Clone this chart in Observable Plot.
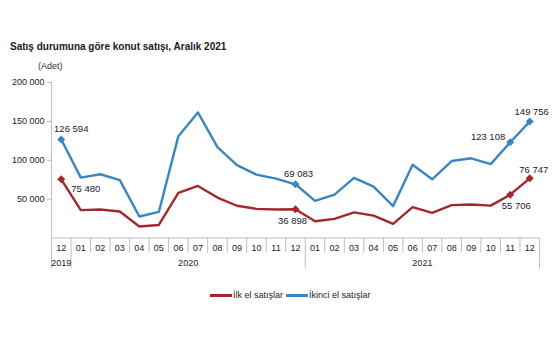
<!DOCTYPE html>
<html>
<head>
<meta charset="utf-8">
<script src="https://cdn.jsdelivr.net/npm/d3@7"></script>
<script src="https://cdn.jsdelivr.net/npm/@observablehq/plot@0.6"></script>
<style>
  body { margin: 0; background: #fff; font-family: "Liberation Sans", Arial, sans-serif; }
  #wrap { position: relative; width: 555px; height: 355px; overflow: hidden; }
  #title { position: absolute; left: 10px; top: 41px; font-size: 10px; font-weight: bold; color: #1a1a1a; white-space: nowrap; }
  #unit { position: absolute; left: 38px; top: 61px; font-size: 9px; color: #333; z-index: 2; }
  #chart { position: absolute; left: 0; top: 60px; z-index: 1; }
  #legend { position: absolute; left: 210px; top: 290px; font-size: 9px; color: #222; display: flex; align-items: center; white-space: nowrap; }
  .sw { display: inline-block; width: 22px; height: 3px; margin-right: 1px; }
</style>
</head>
<body>
<div id="wrap">
  <div id="title">Satış durumuna göre konut satışı, Aralık 2021</div>
  <div id="chart"></div>
  <div id="unit">(Adet)</div>
  <div id="legend"></div>
</div>
<script>
const months = ["12","01","02","03","04","05","06","07","08","09","10","11","12","01","02","03","04","05","06","07","08","09","10","11","12"];
const years = ["2019","2020","2021"];
const yearMonthCounts = [1, 12, 12];
const ilkEl = [75480, 35900, 36600, 34000, 14800, 16800, 58000, 67000, 52000, 41500, 37500, 36600, 36898, 21600, 24600, 33000, 28700, 18200, 39800, 32300, 42300, 43000, 41600, 55706, 76747];
const ikinciEl = [126594, 77700, 82000, 74500, 27700, 33500, 131000, 161500, 116800, 93800, 81500, 76400, 69083, 47800, 55800, 77300, 66200, 41000, 94300, 75500, 99000, 102500, 95000, 123108, 149756];
const seriesNames = ["İlk el satışlar", "İkinci el satışlar"];
const colors = ["#a3282d", "#3a86c1"];
const yTicks = [50000, 100000, 150000, 200000];
const labelled = [0, 12, 23, 24];

const rows = [];
months.forEach((m, i) => {
  rows.push({i, series: seriesNames[0], value: ilkEl[i]});
  rows.push({i, series: seriesNames[1], value: ikinciEl[i]});
});
const fmt = v => d3.format(",")(v).replace(/,/g, " ");
const idx = months.map((_, i) => i);
const boundaries = d3.range(months.length + 1).map(i => i - 0.5);
const yearEdges = [-0.5];
yearMonthCounts.forEach(c => yearEdges.push(yearEdges[yearEdges.length - 1] + c));
const shortEdges = boundaries.filter(b => !yearEdges.includes(b));
const yearCenters = yearMonthCounts.map((c, k) => yearEdges[k] + c / 2);

const grey = "#bdbdbd";
const txt = "#222";
const fs = 9.5;
const pick = (s, ids) => rows.filter(r => r.series === s && ids.includes(r.i));

const chart = Plot.plot({
  width: 555,
  height: 225,
  marginLeft: 51,
  marginRight: 16,
  marginTop: 22,
  marginBottom: 47.5,
  style: {fontFamily: "Liberation Sans, Arial, sans-serif", fontSize: "9px", background: "transparent"},
  x: {type: "linear", domain: [-0.5, months.length - 0.5], axis: null},
  y: {domain: [0, 200000], axis: null},
  color: {domain: seriesNames, range: colors},
  marks: [
    Plot.axisY(yTicks, {anchor: "left", label: null, tickSize: 4, tickPadding: 3, stroke: grey, color: txt, tickFormat: fmt, fontSize: 9}),
    Plot.ruleX([-0.5], {stroke: grey}),
    Plot.ruleY([0], {stroke: grey}),
    Plot.axisX(shortEdges, {anchor: "bottom", label: null, tickSize: 15, stroke: grey, tickFormat: () => ""}),
    Plot.axisX(yearEdges, {anchor: "bottom", label: null, tickSize: 31, stroke: grey, tickFormat: () => ""}),
    Plot.axisX(idx, {anchor: "bottom", label: null, tickSize: 0, tickPadding: 7, color: txt, tickFormat: i => months[i], fontSize: 9}),
    Plot.axisX(yearCenters, {anchor: "bottom", label: null, tickSize: 0, tickPadding: 22, color: txt, tickFormat: (d, k) => years[k], fontSize: 9}),
    Plot.line(rows, {x: "i", y: "value", z: "series", stroke: "series", strokeWidth: 2.4}),
    Plot.dot(rows.filter(r => labelled.includes(r.i)), {x: "i", y: "value", fill: "series", symbol: "diamond2", r: 3.6}),
    Plot.text(pick(seriesNames[1], [0]), {x: "i", y: "value", text: d => fmt(d.value), dx: 10, dy: -11, fill: txt, fontSize: fs}),
    Plot.text(pick(seriesNames[0], [0]), {x: "i", y: "value", text: d => fmt(d.value), dx: 10, dy: 10, textAnchor: "start", fill: txt, fontSize: fs}),
    Plot.text(pick(seriesNames[1], [12]), {x: "i", y: "value", text: d => fmt(d.value), dx: 3, dy: -10, fill: txt, fontSize: fs}),
    Plot.text(pick(seriesNames[0], [12]), {x: "i", y: "value", text: d => fmt(d.value), dx: -3, dy: 12, fill: txt, fontSize: fs}),
    Plot.text(pick(seriesNames[1], [23]), {x: "i", y: "value", text: d => fmt(d.value), dx: -5, dy: -5, textAnchor: "end", fill: txt, fontSize: fs}),
    Plot.text(pick(seriesNames[1], [24]), {x: "i", y: "value", text: d => fmt(d.value), dx: 2, dy: -10, fill: txt, fontSize: fs}),
    Plot.text(pick(seriesNames[0], [24]), {x: "i", y: "value", text: d => fmt(d.value), dx: 4, dy: -8, fill: txt, fontSize: fs}),
    Plot.text(pick(seriesNames[0], [23]), {x: "i", y: "value", text: d => fmt(d.value), dx: 6, dy: 11, fill: txt, fontSize: fs})
  ]
});
document.getElementById("chart").appendChild(chart);

const legend = document.getElementById("legend");
seriesNames.forEach((s, k) => {
  const sw = document.createElement("span");
  sw.className = "sw";
  sw.style.background = colors[k];
  const t = document.createElement("span");
  t.textContent = s;
  t.style.marginRight = k === 0 ? "3px" : "0";
  legend.appendChild(sw);
  legend.appendChild(t);
});
</script>
</body>
</html>
